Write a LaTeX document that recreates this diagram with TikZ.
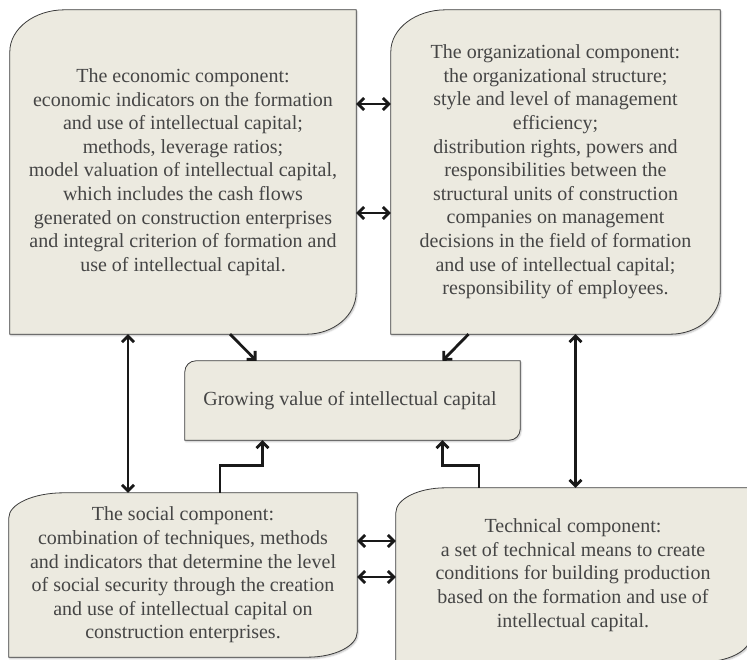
\documentclass[tikz,border=0pt]{standalone}
\usepackage{fontspec}
\setmainfont{Liberation Serif}
\usetikzlibrary{arrows.meta, backgrounds, shadows.blur}
\definecolor{boxfill}{HTML}{ECEAE0}
\definecolor{boxedge}{HTML}{3C3C3C}
\definecolor{boxtext}{HTML}{454545}

% outline with two rounded corners: node, rx/ry top left, rx/ry bottom right
\newcommand{\leafoutline}[5]{%
  \draw[leaf] (#1.south west) -- ([yshift=-#3]#1.north west)
    arc[start angle=180, end angle=90, x radius=#2, y radius=#3]
    -- (#1.north east) -- ([yshift=#5]#1.south east)
    arc[start angle=0, end angle=-90, x radius=#4, y radius=#5] -- cycle;}

\begin{document}
\begin{tikzpicture}[
  x=1pt, y=1pt,
  comp/.style={rectangle, inner sep=0pt, align=center, text=boxtext,
    font=\fontsize{20}{23.6}\selectfont},
  leaf/.style={draw=boxedge, line width=0.8pt, fill=boxfill,
    blur shadow={shadow xshift=1pt, shadow yshift=-1.5pt,
      shadow blur radius=1.5pt, shadow blur steps=4, shadow opacity=25}},
  >={Straight Barb[length=6pt,width=12pt]},
  arrow/.style={->, line width=2.8pt, draw=black!90},
  dblarrow/.style={<->, line width=2.8pt, draw=black!90}
]
  \useasboundingbox (0,0) rectangle (747,659);

  \node[comp, minimum width=346pt, minimum height=324pt] (eco) at (183,487) {
    The economic component:\\
    economic indicators on the formation\\
    and use of intellectual capital;\\
    methods, leverage ratios;\\
    model valuation of intellectual capital,\\
    which includes the cash flows\\
    generated on construction enterprises\\
    and integral criterion of formation and\\
    use of intellectual capital.
  };
  \node[comp, minimum width=329pt, minimum height=324pt] (org) at (555.5,487) {
    The organizational component:\\
    the organizational structure;\\
    style and level of management\\
    efficiency;\\
    distribution rights, powers and\\
    responsibilities between the\\
    structural units of construction\\
    companies on management\\
    decisions in the field of formation\\
    and use of intellectual capital;\\
    responsibility of employees.
  };
  \node[comp, minimum width=335pt, minimum height=79pt] (grow) at (352.5,258.5) {
    Growing value of intellectual capital
  };
  \node[comp, minimum width=348pt, minimum height=164pt] (soc) at (183,84) {
    The social component:\\
    combination of techniques, methods\\
    and indicators that determine the level\\
    of social security through the creation\\
    and use of intellectual capital on\\
    construction enterprises.
  };
  \node[comp, minimum width=354pt, minimum height=174pt] (tech) at (573,84) {
    Technical component:\\
    a set of technical means to create\\
    conditions for building production\\
    based on the formation and use of\\
    intellectual capital.
  };

  \begin{scope}[on background layer]
    \leafoutline{eco}{55pt}{42pt}{50pt}{42pt}
    \leafoutline{org}{55pt}{42pt}{50pt}{42pt}
    \leafoutline{grow}{11pt}{11pt}{11pt}{11pt}
    \leafoutline{soc}{55pt}{25pt}{50pt}{25pt}
    \leafoutline{tech}{50pt}{25pt}{50pt}{25pt}
  \end{scope}

  % links between the components
  \draw[dblarrow] ([yshift=68pt]eco.east) -- ([yshift=68pt]org.west);
  \draw[dblarrow] ([yshift=-41pt]eco.east) -- ([yshift=-41pt]org.west);
  \draw[dblarrow] ([yshift=34pt]soc.east) -- ([yshift=34pt]tech.west);
  \draw[dblarrow] ([yshift=-2pt]soc.east) -- ([yshift=-2pt]tech.west);
  \draw[dblarrow] ([xshift=-55pt]eco.south) -- ([xshift=-55pt]soc.north);
  \draw[dblarrow] ([xshift=20pt]org.south) -- ([xshift=20pt]org.south |- tech.north);

  % into the value
  \draw[arrow] ([xshift=47pt]eco.south) -- ([xshift=-96pt]grow.north);
  \draw[arrow] ([xshift=-87pt]org.south) -- ([xshift=90pt]grow.north);
  \draw[arrow] ([xshift=37pt]soc.north) -- ++(0,27) -| ([xshift=-90pt]grow.south);
  \draw[arrow] ([xshift=-94pt]tech.north) -- ++(0,22) -| ([xshift=90pt]grow.south);
\end{tikzpicture}
\end{document}
